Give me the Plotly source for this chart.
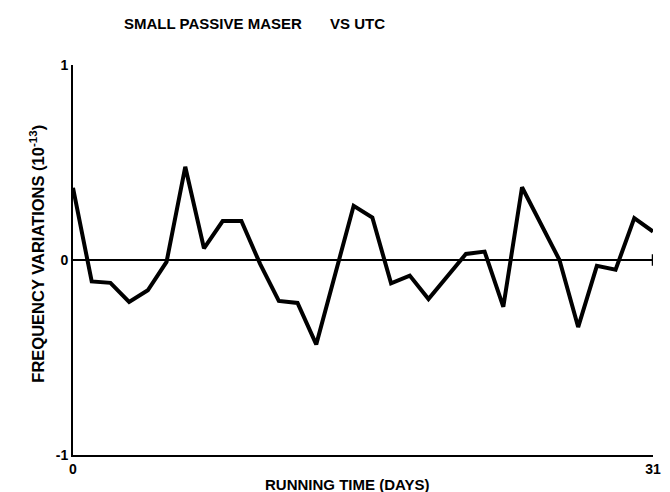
import plotly.graph_objects as go

# readings from the scanned chart (day, 1e-13 units)
days = [0, 1, 2, 3, 4, 5, 6, 7, 8, 9, 10, 11, 12, 13, 15, 16, 17, 18, 19,
        21, 22, 23, 24, 26, 27, 28, 29, 30, 31]
freq_var = [0.37, -0.11, -0.117, -0.215, -0.155, -0.01, 0.478, 0.06, 0.2, 0.2,
            -0.02, -0.21, -0.22, -0.433, 0.278, 0.218, -0.12, -0.08, -0.2,
            0.031, 0.043, -0.24, 0.373, 0.0, -0.344, -0.03, -0.05, 0.215, 0.146]

x_ticks = [0, 31]
x_ticktext = ["0", "31"]
y_ticks = [-1, 0, 1]
y_ticktext = ["-1", "0", "1"]

FONT = "Liberation Sans, Arial, sans-serif"

fig = go.Figure()
fig.add_trace(go.Scatter(x=days, y=freq_var, mode="lines",
                         line=dict(color="black", width=4), showlegend=False))

# page body has an 8px margin, so the figure is sized/margined to compensate
fig.update_layout(
    width=662, height=484,
    margin=dict(l=65, r=9, t=57, b=37),
    paper_bgcolor="white", plot_bgcolor="white",
    font=dict(family=FONT, color="black", size=14, weight="bold"),
    xaxis=dict(range=[0, 31], showgrid=False, zeroline=False,
               showline=True, linecolor="black", linewidth=2,
               tickvals=x_ticks, ticktext=x_ticktext,
               ticks="inside", ticklen=8, tickwidth=2, tickcolor="black",
               tickfont=dict(size=14, weight="bold")),
    yaxis=dict(range=[-1, 1], showgrid=False,
               zeroline=True, zerolinecolor="black", zerolinewidth=2,
               showline=True, linecolor="black", linewidth=2,
               tickvals=y_ticks, ticktext=y_ticktext,
               ticks="inside", ticklen=10, tickwidth=2, tickcolor="black",
               tickfont=dict(size=14, weight="bold")),
)

# small end tick on the zero line at day 31
fig.add_shape(type="line", xref="x", yref="y", x0=31, x1=31, y0=-0.03, y1=0.03,
              line=dict(color="black", width=2.5))

title_font = dict(family=FONT, size=15, color="black", weight="bold")
fig.add_annotation(text="SMALL PASSIVE MASER", xref="paper", yref="paper",
                   x=0.085, y=1.1064, xanchor="left", yanchor="middle",
                   showarrow=False, font=title_font)
fig.add_annotation(text="VS UTC", xref="paper", yref="paper",
                   x=0.4395, y=1.1064, xanchor="left", yanchor="middle",
                   showarrow=False, font=title_font)
fig.add_annotation(text="FREQUENCY VARIATIONS (10<sup>-13</sup>)", xref="paper", yref="paper",
                   x=-0.0612, y=0.515, xanchor="center", yanchor="middle",
                   textangle=-90, showarrow=False,
                   font=dict(family=FONT, size=16.5, color="black", weight="bold"))
fig.add_annotation(text="RUNNING TIME (DAYS)", xref="paper", yref="paper",
                   x=0.4728, y=-0.0744, xanchor="center", yanchor="middle",
                   showarrow=False, font=title_font)

fig.write_html("out.html")
